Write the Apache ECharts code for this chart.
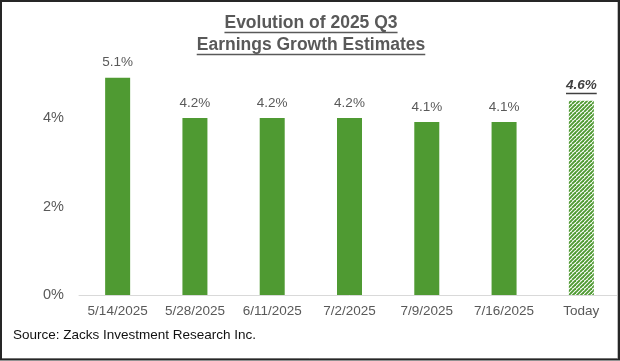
<!DOCTYPE html>
<html>
<head>
<meta charset="utf-8">
<script src="https://cdn.jsdelivr.net/npm/echarts@6/dist/echarts.min.js"></script>
<style>
html,body{margin:0;padding:0;background:#fff;}
#chart{width:620px;height:361px;}
</style>
</head>
<body>
<div id="chart"></div>
<script>
// ---- data ----
const categories = ['5/14/2025', '5/28/2025', '6/11/2025', '7/2/2025', '7/9/2025', '7/16/2025', 'Today'];
// bar heights as drawn in the reference (percent)
const barValues = [4.91, 4.0, 4.0, 4.0, 3.91, 3.91, 4.39];
// value labels as printed above each bar
const barLabels = ['5.1%', '4.2%', '4.2%', '4.2%', '4.1%', '4.1%', '4.6%'];
const yTicks = [0, 2, 4, 6];
const titleLines = ['Evolution of 2025 Q3', 'Earnings Growth Estimates'];
const sourceText = 'Source: Zacks Investment Research Inc.';

const FONT = '"Liberation Sans", Arial, sans-serif';
const GREEN = '#4f9a32';
const GRAY = '#595959';

function measure(text, font) {
  const c = document.createElement('canvas').getContext('2d');
  c.font = font;
  return c.measureText(text).width;
}

// hatch pattern for the estimate bar
const pat = document.createElement('canvas');
pat.width = 8; pat.height = 8;
(function () {
  const ctx = pat.getContext('2d');
  ctx.fillStyle = '#ffffff';
  ctx.fillRect(0, 0, 8, 8);
  ctx.strokeStyle = GREEN;
  ctx.lineWidth = 1.9;
  for (let x0 = -12; x0 <= 12; x0 += 4) {
    ctx.beginPath();
    ctx.moveTo(x0, 8);
    ctx.lineTo(x0 + 8, 0);
    ctx.stroke();
  }
})();

const titleFont = 'bold 17.5px ' + FONT;
const tw1 = measure(titleLines[0], titleFont);
const tw2 = measure(titleLines[1], titleFont);
const todayFont = 'italic bold 13.5px ' + FONT;
const todayW = measure(barLabels[6], todayFont);

const lastIdx = categories.length - 1;
const seriesData = barValues.map((v, i) => {
  if (i === lastIdx) {
    return {
      value: v,
      itemStyle: { color: { image: pat, repeat: 'repeat' } },
      label: {
        show: true, position: 'top', distance: 6.5,
        formatter: '{v|' + barLabels[i] + '}\n{u|}',
        rich: {
          v: { fontFamily: FONT, fontSize: 13.5, fontWeight: 'bold', fontStyle: 'italic', color: '#404040', lineHeight: 15, align: 'center' },
          u: { width: todayW, height: 1.5, lineHeight: 1.5, backgroundColor: '#404040', align: 'center' }
        }
      }
    };
  }
  return {
    value: v,
    itemStyle: { color: GREEN },
    label: {
      show: true, position: 'top', distance: 8,
      formatter: barLabels[i],
      fontFamily: FONT, fontSize: 13.5, color: GRAY
    }
  };
});

const chart = echarts.init(document.getElementById('chart'), null, { renderer: 'canvas' });
chart.setOption({
  backgroundColor: '#ffffff',
  animation: false,
  grid: { left: 79, right: 0, top: 29.5, bottom: 66, containLabel: false },
  xAxis: {
    type: 'category',
    data: categories,
    axisLine: { show: true, lineStyle: { color: '#d9d9d9', width: 1 } },
    axisTick: { show: false },
    axisLabel: { fontFamily: FONT, fontSize: 13.5, color: GRAY, margin: 9, interval: 0 }
  },
  yAxis: {
    type: 'value',
    min: yTicks[0],
    max: yTicks[yTicks.length - 1],
    interval: yTicks[1] - yTicks[0],
    splitLine: { show: false },
    axisLine: { show: false },
    axisTick: { show: false },
    axisLabel: { formatter: '{value}%', fontFamily: FONT, fontSize: 14.5, color: GRAY, margin: 15, showMaxLabel: false }
  },
  series: [{
    type: 'bar',
    barWidth: 25,
    data: seriesData
  }],
  graphic: [
    { type: 'text', z: 50, style: { text: titleLines[0], x: 311, y: 23, align: 'center', verticalAlign: 'middle', font: titleFont, fill: GRAY } },
    { type: 'rect', z: 50, shape: { x: 311 - tw1 / 2, y: 31.8, width: tw1, height: 1.4 }, style: { fill: GRAY } },
    { type: 'text', z: 50, style: { text: titleLines[1], x: 311, y: 45, align: 'center', verticalAlign: 'middle', font: titleFont, fill: GRAY } },
    { type: 'rect', z: 50, shape: { x: 311 - tw2 / 2, y: 53.8, width: tw2, height: 1.4 }, style: { fill: GRAY } },
    { type: 'text', z: 50, style: { text: sourceText, x: 13, y: 335, align: 'left', verticalAlign: 'middle', font: '13.5px ' + FONT, fill: '#111111' } },
    { type: 'polyline', z: 99, shape: { points: [[617.5, 2], [617.5, 358.5], [2, 358.5]] }, style: { stroke: '#bfbfbf', lineWidth: 1, fill: 'none' } },
    { type: 'rect', z: 100, shape: { x: 1, y: 1, width: 618, height: 358.5 }, style: { fill: 'none', stroke: '#262626', lineWidth: 2 } }
  ]
});
</script>
</body>
</html>
